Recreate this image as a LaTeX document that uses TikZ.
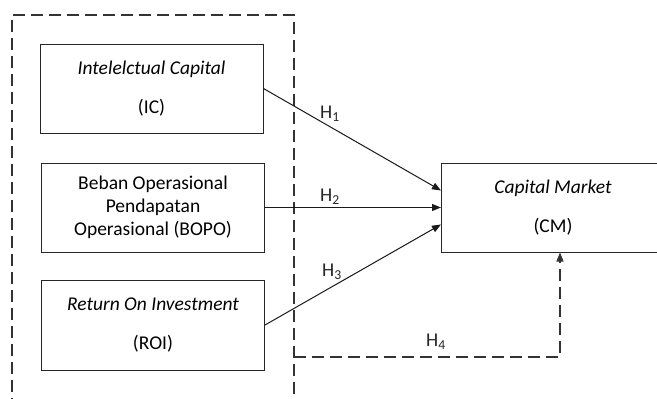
\documentclass[tikz,border=0pt]{standalone}
\usepackage{fontspec}
\setmainfont{Carlito}
\usetikzlibrary{arrows.meta}

\begin{document}
\begin{tikzpicture}[x=1pt, y=-1pt, font=\fontsize{19.5}{23}\selectfont,
		box/.style={draw=black!85, line width=1pt, minimum width=223pt, minimum height=89pt, inner sep=0pt, align=center},
		hyp/.style={draw=black!90, line width=1pt, -{Triangle[length=9pt,width=7pt]}},
		frame/.style={draw=black!80, line width=1.2pt, dash pattern=on 12pt off 6pt},
		hlabel/.style={inner sep=1pt, text=black!85}]
		\useasboundingbox (0,0) rectangle (657,399);
		\clip (0,0) rectangle (657,399);
		% dashed frame round the independent variables
		\draw[frame] (12,410) -- (12,15) -- (294,15) -- (294,410);
		\node[box] (ic) at (151.5,88.5) {\itshape Intelelctual Capital\\[16pt](IC)};
		\node[box] (bopo) at (153,207.5) {Beban Operasional\\Pendapatan\\Operasional (BOPO)};
		\node[box, minimum height=90pt] (roi) at (153,325) {\itshape Return On Investment\\[16pt]\upshape (ROI)};
		\node[box] (cm) at (553,207.5) {\itshape Capital Market\\[16pt]\upshape (CM)};
		\coordinate (h4s) at (294,357);
		\draw[hyp] (ic.east) -- ([yshift=17pt]cm.west);
		\draw[hyp] (bopo.east) -- (cm.west);
		\draw[hyp] (roi.east) -- ([yshift=-17pt]cm.west);
		\draw[frame, -{Triangle[length=9pt,width=7pt]}] (h4s) -| ([xshift=7pt]cm.south);
		\node[hlabel] (h1) at (330,114) {H\textsubscript{1}};
		\node[hlabel] (h2) at (330,197) {H\textsubscript{2}};
		\node[hlabel] (h3) at (332,272) {H\textsubscript{3}};
		\node[hlabel] (h4) at (436,342) {H\textsubscript{4}};
	\end{tikzpicture}
\end{document}
